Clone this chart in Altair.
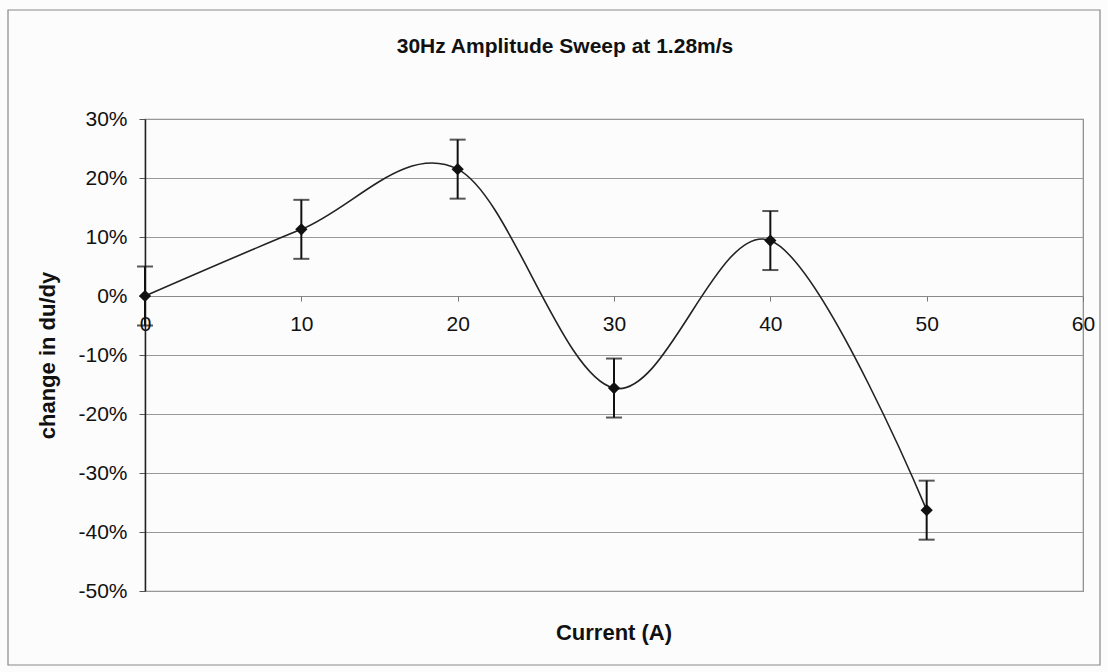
import altair as alt
import pandas as pd

# Data
current = [0, 10, 20, 30, 40, 50]
change = [0.0, 0.113, 0.215, -0.156, 0.094, -0.363]
err = [0.05, 0.05, 0.05, 0.05, 0.05, 0.05]

x_ticks = [0, 10, 20, 30, 40, 50, 60]
y_ticks = [-0.5, -0.4, -0.3, -0.2, -0.1, 0.0, 0.1, 0.2, 0.3]

title_text = "30Hz Amplitude Sweep at 1.28m/s"
x_title = "Current (A)"
y_title = "change in du/dy"

df = pd.DataFrame({
    "current": current,
    "change": change,
    "lo": [c - e for c, e in zip(change, err)],
    "hi": [c + e for c, e in zip(change, err)],
})
one = pd.DataFrame({"k": [0]})

FONT = "Liberation Sans"
W, H = 938, 472

xscale = alt.Scale(domain=[0, 60], nice=False, zero=False)
yscale = alt.Scale(domain=[-0.5, 0.3], nice=False, zero=False)

xenc = alt.X(
    "current:Q", scale=xscale, title=None,
    axis=alt.Axis(values=x_ticks, grid=False, offset=-295, tickSize=5,
                  tickColor="#777", domainColor="#888", labelPadding=12,
                  labelFontSize=21, labelFont=FONT, labelColor="#111",
                  labelOverlap=False, labelFlush=False),
)
yenc = alt.Y(
    "change:Q", scale=yscale,
    axis=alt.Axis(values=y_ticks, labelExpr="round(datum.value * 100) + '%'",
                  grid=True, gridColor="#999",
                  gridWidth=1, tickSize=6, tickColor="#555", domainColor="#222",
                  domainWidth=1.5, labelPadding=12, labelFontSize=21,
                  labelFont=FONT, labelColor="#111", labelFlush=False,
                  title=y_title, titleFont=FONT, titleFontSize=22,
                  titleFontWeight="bold", titleColor="#111",
                  titleX=-98, titleY=236, titleBaseline="middle",
                  titleAlign="center"),
)

base = alt.Chart(df)

border = alt.Chart(one).mark_rect(filled=False, stroke="#888", strokeWidth=1.2).encode(
    x=alt.value(-137), x2=alt.value(955), y=alt.value(-109), y2=alt.value(546)
)

title = alt.Chart(one).mark_text(
    text=title_text, font=FONT, fontSize=21, fontWeight="bold", color="#111",
    align="center", baseline="middle"
).encode(x=alt.value(420), y=alt.value(-72))

xlab = alt.Chart(one).mark_text(
    text=x_title, font=FONT, fontSize=22, fontWeight="bold", color="#111",
    align="center", baseline="middle"
).encode(x=alt.value(469), y=alt.value(514))

line = base.mark_line(interpolate="cardinal", color="#222", strokeWidth=1.6).encode(
    x=xenc, y=yenc
)

bars = base.mark_rule(color="#111", strokeWidth=2).encode(
    x="current:Q", y="lo:Q", y2="hi:Q"
)
caps_hi = base.mark_tick(orient="horizontal", color="#111", size=16, thickness=2).encode(
    x="current:Q", y="hi:Q"
)
caps_lo = base.mark_tick(orient="horizontal", color="#111", size=16, thickness=2).encode(
    x="current:Q", y="lo:Q"
)

points = base.mark_point(shape="diamond", filled=True, size=150, color="#111", opacity=1).encode(
    x="current:Q", y="change:Q"
)

chart = alt.layer(border, title, xlab, line, bars, caps_hi, caps_lo, points).properties(
    width=W, height=H,
    autosize=alt.AutoSizeParams(type="none"),
    padding={"left": 145, "top": 119, "right": 25, "bottom": 81},
    background="#fcfcfc",
).configure_view(stroke="#888", strokeWidth=1.2)

chart.save("out.html", embed_options={"renderer": "svg", "actions": False})
